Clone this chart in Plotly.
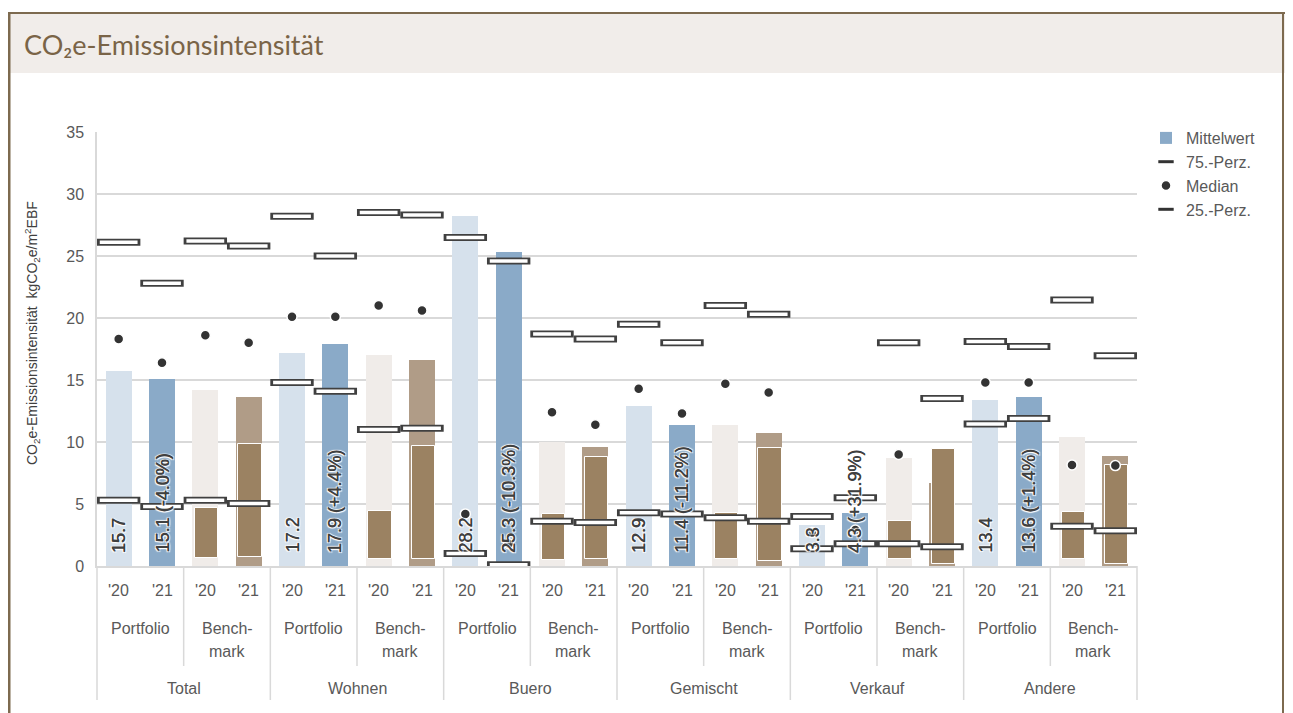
import plotly.graph_objects as go

# ---- data ----
GROUPS = ["Total", "Wohnen", "Buero", "Gemischt", "Verkauf", "Andere"]
SUBGROUPS = ["Portfolio", "Bench-<br>mark"]
YEARS = ["'20", "'21"]

mean_p20 = [15.7, 17.2, 28.2, 12.9, 3.3, 13.4]
mean_p21 = [15.1, 17.9, 25.3, 11.4, 4.3, 13.6]
change_p21 = ["-4.0%", "+4.4%", "-10.3%", "-11.2%", "+31.9%", "+1.4%"]
mean_b20 = [14.2, 17.0, 10.0, 11.4, 8.7, 10.4]
mean_b21 = [13.6, 16.6, 9.6, 10.7, 6.7, 8.9]

# per group: P'20, P'21, B'20, B'21
perc75 = [26.1, 22.8, 26.2, 25.8,
          28.2, 25.0, 28.5, 28.3,
          26.5, 24.6, 18.7, 18.3,
          19.5, 18.0, 21.0, 20.3,
          4.0, 5.5, 18.0, 13.5,
          18.1, 17.7, 21.45, 16.95]
median = [18.3, 16.4, 18.6, 18.0,
          20.1, 20.1, 21.0, 20.6,
          4.2, 1.8, 12.4, 11.4,
          14.3, 12.3, 14.7, 14.0,
          2.7, 2.9, 9.0, None,
          14.8, 14.8, 8.15, 8.1]
perc25 = [5.3, 4.8, 5.3, 5.05,
          14.8, 14.1, 11.0, 11.1,
          1.0, 0.1, 3.6, 3.5,
          4.3, 4.2, 3.9, 3.6,
          1.4, 1.8, 1.8, 1.55,
          11.45, 11.9, 3.2, 2.85]

# darker brown blocks drawn over the benchmark bars
block_b20_low = [0.65, 0.55, 0.5, 0.55, 0.55, 0.55]
block_b20_high = [4.65, 4.4, 4.2, 4.3, 3.65, 4.35]
block_b21_low = [0.7, 0.6, 0.55, 0.4, 0.2, 0.2]
block_b21_high = [9.8, 9.7, 8.8, 9.55, 9.4, 8.15]

# ---- layout constants (screen pixels; the page body adds an 8px offset) ----
OFF = 8
W, H = 1293 - OFF, 713 - OFF
PX_L, PX_R, PX_T, PX_B = 97, 1137, 132, 566
PW, PH = PX_R - PX_L, PX_B - PX_T
N = len(GROUPS) * 4

C_P20, C_P21 = "#d6e1ec", "#8aaac8"
C_B20, C_B21 = "#f0ece9", "#b09c87"
C_BLOCK = "#9b8262"
GRID = "#d9d9d9"
TXT = "#595959"
BROWN = "#7d6a4f"
FONT = "Arial, Liberation Sans, sans-serif"


def px_x(px):
    return (px - PX_L) / PW


def px_y(py):
    return (PX_B - py) / PH


def pos(s, y):
    return [g * 4 + s * 2 + y for g in range(len(GROUPS))]


fig = go.Figure()

for s, y, vals, col, name in [
    (0, 0, mean_p20, C_P20, "P20"),
    (0, 1, mean_p21, C_P21, "Mittelwert"),
    (1, 0, mean_b20, C_B20, "B20"),
    (1, 1, mean_b21, C_B21, "B21"),
]:
    fig.add_trace(go.Bar(
        x=pos(s, y), y=vals, width=0.6, marker=dict(color=col, line=dict(width=0)),
        name=name, showlegend=(name == "Mittelwert"), legendrank=1, hoverinfo="skip",
    ))

for y, lo, hi in [(0, block_b20_low, block_b20_high), (1, block_b21_low, block_b21_high)]:
    fig.add_trace(go.Bar(
        x=pos(1, y), y=[h - l for l, h in zip(lo, hi)], base=lo, width=0.54,
        offset=-0.24, marker=dict(color=C_BLOCK, line=dict(color="white", width=1)),
        showlegend=False, hoverinfo="skip",
    ))

xs = list(range(N))
for vals in (perc75, perc25):
    fig.add_trace(go.Scatter(
        x=xs, y=vals, mode="markers", showlegend=False, hoverinfo="skip",
        marker=dict(symbol="line-ew", size=31, line=dict(color="#404040", width=7)),
    ))
    fig.add_trace(go.Scatter(
        x=xs, y=vals, mode="markers", showlegend=False, hoverinfo="skip",
        marker=dict(symbol="line-ew", size=27, line=dict(color="white", width=3.5)),
    ))

fig.add_trace(go.Scatter(
    x=xs, y=median, mode="markers", name="Median", legendrank=3, hoverinfo="skip",
    marker=dict(symbol="circle", size=10, color="#333333", line=dict(color="white", width=1.5)),
))

# legend-only entries for the percentile markers
for name, rank in [("75.-Perz.", 2), ("25.-Perz.", 4)]:
    fig.add_trace(go.Scatter(
        x=[None], y=[None], mode="markers", name=name, legendrank=rank,
        marker=dict(symbol="line-ew", size=11, line=dict(color="#333333", width=3)),
    ))

annotations = []
# value labels inside the portfolio bars (white halo, slightly heavier strokes)
shadow = ("0.6px 0 0 #404040, 1px 1px 1px white, -1px -1px 1px white, "
          "1px -1px 1px white, -1px 1px 1px white")
for g in range(len(GROUPS)):
    for y, txt in [(0, f"{mean_p20[g]:.1f}"), (1, f"{mean_p21[g]:.1f} ({change_p21[g]})")]:
        annotations.append(dict(
            x=g * 4 + y, y=0, xref="x", yref="y", text=txt, showarrow=False,
            textangle=-90, xanchor="center", yanchor="bottom", yshift=11,
            font=dict(family=FONT, size=18, color="#404040", shadow=shadow),
        ))

# multi-level category labels
for g, grp in enumerate(GROUPS):
    annotations.append(dict(
        x=g * 4 + 1.5, y=px_y(688), xref="x", yref="paper", text=grp, showarrow=False,
        font=dict(family=FONT, size=16, color=TXT), yanchor="middle",
    ))
    for s, sub in enumerate(SUBGROUPS):
        for li, line in enumerate(sub.split("<br>")):
            annotations.append(dict(
                x=g * 4 + s * 2 + 0.5, y=px_y(628 + 23 * li), xref="x", yref="paper",
                text=line, showarrow=False, yanchor="middle",
                font=dict(family=FONT, size=16, color=TXT),
            ))
        for yi, yr in enumerate(YEARS):
            annotations.append(dict(
                x=g * 4 + s * 2 + yi, y=px_y(590), xref="x", yref="paper", text=yr,
                showarrow=False, yanchor="middle", font=dict(family=FONT, size=16, color=TXT),
            ))

# axis title
annotations.append(dict(
    x=px_x(32), y=px_y(333), xref="paper", yref="paper", showarrow=False, textangle=-90,
    text="CO<sub>2</sub>e-Emissionsintensität  kgCO<sub>2</sub>e/m<sup>2</sup>EBF",
    font=dict(family=FONT, size=14, color="#404040"), xanchor="center", yanchor="middle",
))

# header title
annotations.append(dict(
    x=px_x(22), y=px_y(45), xref="paper", yref="paper", showarrow=False,
    text="CO₂e-Emissionsintensität", xanchor="left", yanchor="middle",
    font=dict(family="Lato, sans-serif", size=27, color="#7a6447"),
))

shapes = [
    # header band and frame
    dict(type="rect", xref="paper", yref="paper", x0=px_x(7), x1=px_x(1290), y0=px_y(13),
         y1=px_y(73), fillcolor="#f1edea", line=dict(width=0), layer="below"),
    dict(type="line", xref="paper", yref="paper", x0=px_x(7), x1=px_x(1290), y0=px_y(13),
         y1=px_y(13), line=dict(color=BROWN, width=2)),
    dict(type="line", xref="paper", yref="paper", x0=px_x(9), x1=px_x(9), y0=px_y(12),
         y1=px_y(713), line=dict(color=BROWN, width=3)),
    dict(type="line", xref="paper", yref="paper", x0=px_x(1283), x1=px_x(1283), y0=px_y(12),
         y1=px_y(713), line=dict(color=BROWN, width=2)),
]
# category separators
for g in range(len(GROUPS) + 1):
    xp = (g * 4) / N
    shapes.append(dict(type="line", xref="paper", yref="paper", x0=xp, x1=xp,
                       y0=0, y1=px_y(700), line=dict(color=GRID, width=1.5)))
    if g < len(GROUPS):
        xp = (g * 4 + 2) / N
        shapes.append(dict(type="line", xref="paper", yref="paper", x0=xp, x1=xp,
                           y0=0, y1=px_y(666), line=dict(color=GRID, width=1.5)))

fig.update_layout(
    width=W, height=H,
    margin=dict(l=PX_L - OFF, r=OFF + W - PX_R, t=PX_T - OFF, b=OFF + H - PX_B),
    paper_bgcolor="white", plot_bgcolor="white",
    barmode="overlay", bargap=0,
    font=dict(family=FONT, color=TXT),
    xaxis=dict(range=[-0.5, N - 0.5], showticklabels=False, showgrid=False, zeroline=False,
               showline=True, linecolor=GRID, linewidth=1.5, fixedrange=True),
    yaxis=dict(range=[0, 35], dtick=5, showgrid=True, gridcolor=GRID, gridwidth=1.5,
               zeroline=False, showline=True, linecolor=GRID, linewidth=1.5,
               tickfont=dict(family=FONT, size=16, color=TXT), ticks="",
               ticklabelstandoff=8, fixedrange=True),
    legend=dict(x=px_x(1146), y=px_y(121), xanchor="left", yanchor="top",
                font=dict(family=FONT, size=16, color=TXT), bgcolor="rgba(0,0,0,0)",
                itemwidth=30, traceorder="normal"),
    annotations=annotations,
    shapes=shapes,
    showlegend=True,
)

fig.write_html("out.html")
